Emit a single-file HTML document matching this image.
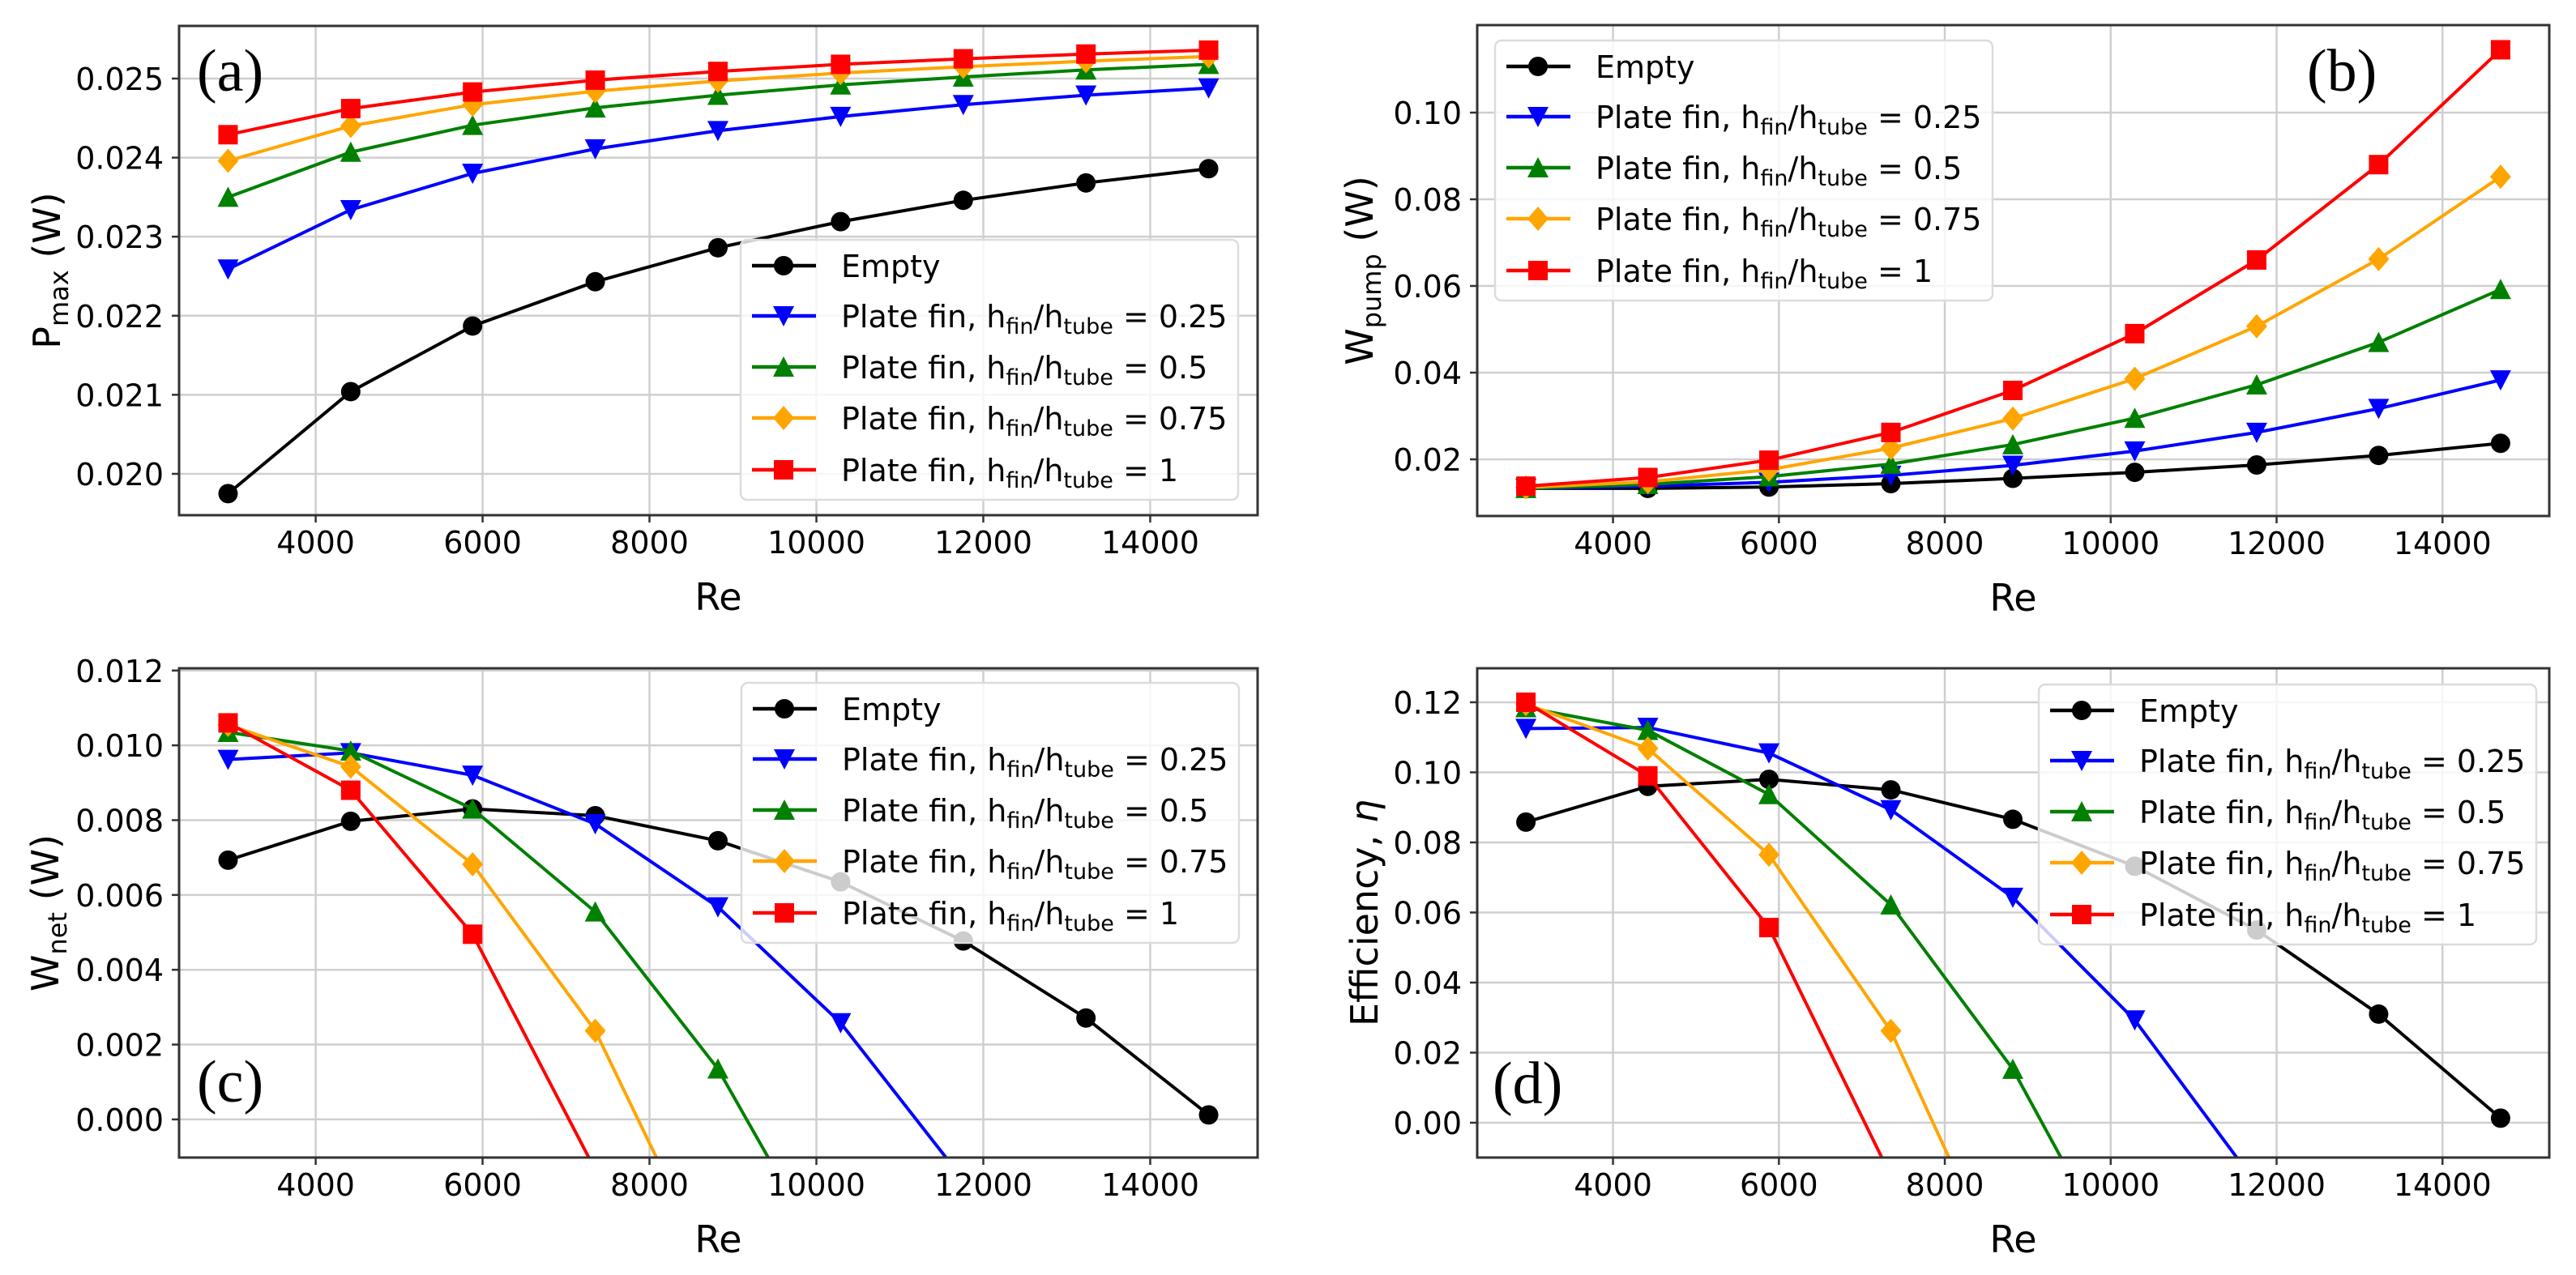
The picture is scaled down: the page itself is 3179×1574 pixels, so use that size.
<!DOCTYPE html>
<html><head><meta charset="utf-8">
<style>
html,body{margin:0;padding:0;background:#fff;}
svg{display:block;}
text{font-family:"DejaVu Sans","Liberation Sans",sans-serif;fill:#000;}
.serif{font-family:"Liberation Serif","DejaVu Serif",serif;}
</style></head>
<body>
<svg id="fig" width="3179" height="1574" viewBox="0 0 3179 1574" xmlns="http://www.w3.org/2000/svg"></svg>
<script>
// ---------- data ----------
const reValues = [2950, 4420, 5880, 7350, 8820, 10290, 11760, 13230, 14700];
const xTicks = [4000, 6000, 8000, 10000, 12000, 14000];
const seriesNames = ["Empty", "0.25", "0.5", "0.75", "1"];

const pmaxEmpty = [0.01975, 0.02104, 0.02187, 0.02243, 0.02286, 0.02319, 0.02346, 0.02368, 0.02386];
const pmax025 = [0.02259, 0.02334, 0.02380, 0.02411, 0.02434, 0.02452, 0.02467, 0.02479, 0.02488];
const pmax05 = [0.02350, 0.02407, 0.02441, 0.02463, 0.02479, 0.02492, 0.02502, 0.02511, 0.02518];
const pmax075 = [0.02396, 0.02440, 0.02467, 0.02484, 0.02497, 0.02507, 0.02515, 0.02522, 0.02528];
const pmax1 = [0.02429, 0.02462, 0.02483, 0.02498, 0.02509, 0.02518, 0.02525, 0.02531, 0.02536];
const pmaxTicks = [0.020, 0.021, 0.022, 0.023, 0.024, 0.025];
const pmaxTickLabels = ["0.020", "0.021", "0.022", "0.023", "0.024", "0.025"];

const wpumpEmpty = [0.0133, 0.0133, 0.0136, 0.0144, 0.0156, 0.0170, 0.0187, 0.0209, 0.0237];
const wpump025 = [0.0133, 0.0138, 0.0147, 0.0163, 0.0186, 0.0219, 0.0262, 0.0317, 0.0383];
const wpump05 = [0.0133, 0.0142, 0.0160, 0.0189, 0.0234, 0.0295, 0.0372, 0.0470, 0.0592];
const wpump075 = [0.0135, 0.0148, 0.0176, 0.0226, 0.0294, 0.0386, 0.0507, 0.0662, 0.0852];
const wpump1 = [0.0138, 0.0158, 0.0198, 0.0262, 0.0359, 0.0490, 0.0660, 0.0880, 0.1145];
const wpumpTicks = [0.02, 0.04, 0.06, 0.08, 0.10];
const wpumpTickLabels = ["0.02", "0.04", "0.06", "0.08", "0.10"];

const wnetEmpty = [0.00693, 0.00797, 0.00830, 0.00812, 0.00745, 0.00635, 0.00477, 0.00271, 0.00012];
const wnet025 = [0.00962, 0.00980, 0.00920, 0.00790, 0.00568, 0.00258, -0.00161];
const wnet05 = [0.01035, 0.00985, 0.00830, 0.00555, 0.00135, -0.00443];
const wnet075 = [0.01055, 0.00943, 0.00682, 0.00237, -0.00443];
const wnet1 = [0.01060, 0.00880, 0.00495, -0.00135];
const wnetTicks = [0.000, 0.002, 0.004, 0.006, 0.008, 0.010, 0.012];
const wnetTickLabels = ["0.000", "0.002", "0.004", "0.006", "0.008", "0.010", "0.012"];

const effEmpty = [0.0858, 0.0960, 0.0980, 0.0950, 0.0866, 0.0732, 0.0550, 0.0310, 0.0013];
const eff025 = [0.1125, 0.1128, 0.1055, 0.0893, 0.0643, 0.0293, -0.0176];
const eff05 = [0.1185, 0.1120, 0.0937, 0.0622, 0.0153, -0.0486];
const eff075 = [0.1195, 0.1068, 0.0765, 0.0262, -0.0496];
const eff1 = [0.1200, 0.0990, 0.0557, -0.0152];
const effTicks = [0.00, 0.02, 0.04, 0.06, 0.08, 0.10, 0.12];
const effTickLabels = ["0.00", "0.02", "0.04", "0.06", "0.08", "0.10", "0.12"];

// ---------- drawing ----------
const NS = "http://www.w3.org/2000/svg";
const fig = document.getElementById("fig");
const colors = ["#000000", "#0000ff", "#008000", "#ffa500", "#ff0000"];
const markers = ["o", "v", "^", "d", "s"];
function mk(tag, parent) { const e = document.createElementNS(NS, tag); parent.appendChild(e); return e; }

function drawMarker(g, type, cx, cy, color) {
  let e;
  if (type === "o") { e = mk("circle", g); e.setAttribute("cx", cx); e.setAttribute("cy", cy); e.setAttribute("r", 12); }
  else if (type === "s") { e = mk("rect", g); e.setAttribute("x", cx - 12); e.setAttribute("y", cy - 12); e.setAttribute("width", 24); e.setAttribute("height", 24); }
  else if (type === "v") { e = mk("polygon", g); e.setAttribute("points", `${cx-13},${cy-12} ${cx+13},${cy-12} ${cx},${cy+13}`); }
  else if (type === "^") { e = mk("polygon", g); e.setAttribute("points", `${cx-13},${cy+12} ${cx+13},${cy+12} ${cx},${cy-13}`); }
  else { e = mk("polygon", g); e.setAttribute("points", `${cx},${cy-15} ${cx+13},${cy} ${cx},${cy+15} ${cx-13},${cy}`); }
  e.setAttribute("fill", color);
  return e;
}

function labelText(parent, x, y, value) {
  const t = mk("text", parent);
  t.setAttribute("x", x); t.setAttribute("y", y);
  t.setAttribute("font-size", 38);
  if (value === "Empty") { t.textContent = "Empty"; return t; }
  const parts = [["Plate fin, h", 0], ["fin", 1], ["/h", 0], ["tube", 1], [" = " + value, 0]];
  parts.forEach(p => {
    const s = mk("tspan", t);
    s.textContent = p[0];
    if (p[1] === 1) { s.setAttribute("font-size", 27); s.setAttribute("dy", 8); }
    else if (s.previousSibling) { s.setAttribute("dy", -8); }
  });
  return t;
}

function panel(cfg) {
  const g = mk("g", fig);
  
  
  const {L, R, T, B, ymin, ymax} = cfg;
  const xmin = 2363, xmax = 15287;
  const sx = v => L + (v - xmin) / (xmax - xmin) * (R - L);
  const sy = v => B - (v - ymin) / (ymax - ymin) * (B - T);
  const clipId = "clip-" + cfg.name;
  const cp = mk("clipPath", g); cp.setAttribute("id", clipId);
  const cr = mk("rect", cp); cr.setAttribute("x", L); cr.setAttribute("y", T); cr.setAttribute("width", R - L); cr.setAttribute("height", B - T);
  const grid = mk("g", g);
  
  
  xTicks.forEach(v => {
    const l = mk("line", grid);
    l.setAttribute("x1", sx(v)); l.setAttribute("x2", sx(v)); l.setAttribute("y1", T); l.setAttribute("y2", B);
    l.setAttribute("stroke", "#cfcfcf"); l.setAttribute("stroke-width", 2.5);
  });
  cfg.yTicks.forEach(v => {
    const l = mk("line", grid);
    l.setAttribute("x1", L); l.setAttribute("x2", R); l.setAttribute("y1", sy(v)); l.setAttribute("y2", sy(v));
    l.setAttribute("stroke", "#cfcfcf"); l.setAttribute("stroke-width", 2.5);
  });
  xTicks.forEach(v => {
    const l = mk("line", g);
    l.setAttribute("x1", sx(v)); l.setAttribute("x2", sx(v)); l.setAttribute("y1", B); l.setAttribute("y2", B + 9);
    l.setAttribute("stroke", "#333"); l.setAttribute("stroke-width", 2.5);
    const t = mk("text", g);
    
    
    t.setAttribute("x", sx(v)); t.setAttribute("y", B + 47); t.setAttribute("font-size", 38); t.setAttribute("text-anchor", "middle");
    t.textContent = String(v);
  });
  cfg.yTicks.forEach((v, i) => {
    const l = mk("line", g);
    l.setAttribute("x1", L - 9); l.setAttribute("x2", L); l.setAttribute("y1", sy(v)); l.setAttribute("y2", sy(v));
    l.setAttribute("stroke", "#333"); l.setAttribute("stroke-width", 2.5);
    const t = mk("text", g);
    
    
    t.setAttribute("x", L - 19); t.setAttribute("y", sy(v) + 14); t.setAttribute("font-size", 38); t.setAttribute("text-anchor", "end");
    t.textContent = cfg.yTickLabels[i];
  });
  const sg = mk("g", g); sg.setAttribute("clip-path", `url(#${clipId})`);
  cfg.series.forEach((arr, si) => {
    const pl = mk("polyline", sg);
    
    
    pl.setAttribute("points", arr.map((v, i) => `${sx(reValues[i])},${sy(v)}`).join(" "));
    pl.setAttribute("fill", "none"); pl.setAttribute("stroke", colors[si]); pl.setAttribute("stroke-width", 4);
    arr.forEach((v, i) => {
      const m = drawMarker(sg, markers[si], sx(reValues[i]), sy(v), colors[si]);
      
      
    });
  });
  const fr = mk("rect", g);
  
  
  fr.setAttribute("x", L); fr.setAttribute("y", T); fr.setAttribute("width", R - L); fr.setAttribute("height", B - T);
  fr.setAttribute("fill", "none"); fr.setAttribute("stroke", "#333"); fr.setAttribute("stroke-width", 3);
  const xl = mk("text", g);
  
  
  xl.setAttribute("x", (L + R) / 2); xl.setAttribute("y", B + 117); xl.setAttribute("font-size", 46); xl.setAttribute("text-anchor", "middle");
  xl.textContent = "Re";
  const yl = mk("text", g);
  
  
  yl.setAttribute("font-size", 46); yl.setAttribute("text-anchor", "middle");
  yl.setAttribute("transform", `translate(${cfg.ylx},${(T + B) / 2}) rotate(-90)`);
  cfg.yLabel.forEach(p => {
    const s = mk("tspan", yl); s.textContent = p[0];
    if (p[1] === 1) { s.setAttribute("font-size", 32); s.setAttribute("dy", 10); }
    else if (p[1] === 2) { s.setAttribute("font-style", "italic"); }
    else if (s.previousSibling) { s.setAttribute("dy", -10); }
  });
  const pt = mk("text", g);
  
  
  pt.setAttribute("class", "serif");
  pt.setAttribute("x", cfg.px); pt.setAttribute("y", cfg.py); pt.setAttribute("font-size", 74);
  pt.textContent = cfg.letter;
  const lg = mk("g", g);
  
  
  const bx = mk("rect", lg);
  bx.setAttribute("x", cfg.lx); bx.setAttribute("y", cfg.ly); bx.setAttribute("width", 614); bx.setAttribute("height", 321);
  bx.setAttribute("rx", 8); bx.setAttribute("fill", "rgba(255,255,255,0.8)"); bx.setAttribute("stroke", "#dcdcdc"); bx.setAttribute("stroke-width", 2.5);
  const offs = [32, 94, 157, 220, 284];
  seriesNames.forEach((nm, si) => {
    const ey = cfg.ly + offs[si];
    const e = mk("g", lg);
    
    
    const l = mk("line", e);
    l.setAttribute("x1", cfg.lx + 14); l.setAttribute("x2", cfg.lx + 93); l.setAttribute("y1", ey); l.setAttribute("y2", ey);
    l.setAttribute("stroke", colors[si]); l.setAttribute("stroke-width", 4.5);
    drawMarker(e, markers[si], cfg.lx + 53, ey, colors[si]);
    labelText(e, cfg.lx + 124, ey + 14, nm);
  });
}

panel({name: "panel-a-pmax", L: 221, R: 1552, T: 32, B: 636, ymin: 0.019477, ymax: 0.025666,
  yTicks: pmaxTicks, yTickLabels: pmaxTickLabels, series: [pmaxEmpty, pmax025, pmax05, pmax075, pmax1],
  yLabel: [["P", 0], ["max", 1], [" (W)", 0]], ylx: 74, letter: "(a)", px: 243, py: 112, lx: 914, ly: 296});
panel({name: "panel-b-wpump", L: 1823, R: 3146, T: 31, B: 637, ymin: 0.00692, ymax: 0.12019,
  yTicks: wpumpTicks, yTickLabels: wpumpTickLabels, series: [wpumpEmpty, wpump025, wpump05, wpump075, wpump1],
  yLabel: [["W", 0], ["pump", 1], [" (W)", 0]], ylx: 1694, letter: "(b)", px: 2847, py: 112, lx: 1845, ly: 50});
panel({name: "panel-c-wnet", L: 221, R: 1552, T: 825, B: 1429, ymin: -0.00102, ymax: 0.01206,
  yTicks: wnetTicks, yTickLabels: wnetTickLabels, series: [wnetEmpty, wnet025, wnet05, wnet075, wnet1],
  yLabel: [["W", 0], ["net", 1], [" (W)", 0]], ylx: 72, letter: "(c)", px: 243, py: 1360, lx: 915, ly: 843});
panel({name: "panel-d-efficiency", L: 1823, R: 3146, T: 825, B: 1429, ymin: -0.00994, ymax: 0.1297,
  yTicks: effTicks, yTickLabels: effTickLabels, series: [effEmpty, eff025, eff05, eff075, eff1],
  yLabel: [["Efficiency, ", 0], ["η", 2]], ylx: 1700, letter: "(d)", px: 1842, py: 1362, lx: 2516, ly: 845});
</script>
</body></html>
